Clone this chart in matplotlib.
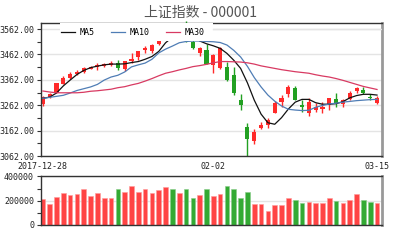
import matplotlib
matplotlib.use('Agg')
import matplotlib.pyplot as plt
from matplotlib.patches import Rectangle
import numpy as np

# K线数据 (上证指数 2017-12-28 ~ 2018-03-15)
dates = ['2017-12-28', '02-02', '03-15']
date_pos = [0, 25, 49]

opens = [3268, 3294, 3312, 3346, 3368, 3384, 3392, 3406, 3412, 3417,
         3422, 3428, 3403, 3437, 3450, 3478, 3475, 3504, 3547, 3555,
         3547, 3563, 3511, 3468, 3480, 3420, 3410, 3414, 3380, 3284,
         3176, 3122, 3174, 3184, 3232, 3274, 3306, 3330, 3262, 3231,
         3243, 3248, 3262, 3286, 3266, 3285, 3319, 3322, 3295, 3272]
closes = [3296, 3307, 3348, 3370, 3386, 3392, 3410, 3414, 3422, 3425,
          3429, 3410, 3437, 3445, 3475, 3488, 3501, 3546, 3559, 3548,
          3558, 3523, 3488, 3488, 3426, 3461, 3487, 3362, 3309, 3262,
          3128, 3156, 3186, 3202, 3269, 3290, 3332, 3282, 3256, 3275,
          3256, 3254, 3289, 3269, 3281, 3309, 3328, 3309, 3289, 3292]
highs = [3298, 3309, 3350, 3376, 3392, 3402, 3413, 3418, 3430, 3428,
         3436, 3442, 3438, 3468, 3477, 3497, 3505, 3547, 3563, 3562,
         3563, 3595, 3524, 3493, 3503, 3463, 3492, 3434, 3414, 3306,
         3191, 3168, 3195, 3211, 3278, 3302, 3342, 3338, 3282, 3290,
         3270, 3274, 3292, 3310, 3286, 3318, 3335, 3335, 3306, 3298]
lows = [3258, 3292, 3310, 3344, 3365, 3380, 3388, 3403, 3400, 3412,
        3418, 3402, 3396, 3430, 3442, 3466, 3467, 3500, 3534, 3527,
        3526, 3510, 3484, 3454, 3424, 3390, 3405, 3358, 3302, 3242,
        3062, 3108, 3168, 3172, 3231, 3255, 3295, 3282, 3236, 3219,
        3236, 3232, 3243, 3255, 3255, 3282, 3311, 3306, 3282, 3266]

ma5 = [3289, 3294, 3310, 3338, 3361, 3383, 3399, 3410, 3416, 3421,
       3424, 3424, 3425, 3430, 3434, 3443, 3454, 3474, 3508, 3530,
       3542, 3548, 3535, 3515, 3504, 3496, 3486, 3466, 3439, 3407,
       3350, 3282, 3227, 3193, 3187, 3213, 3247, 3274, 3285, 3285,
       3272, 3266, 3266, 3268, 3276, 3291, 3300, 3305, 3305, 3302]
ma10 = [3289, 3293, 3297, 3301, 3310, 3320, 3327, 3334, 3344, 3361,
        3373, 3380, 3393, 3413, 3421, 3428, 3443, 3468, 3483, 3495,
        3508, 3513, 3515, 3515, 3513, 3512, 3509, 3499, 3478, 3452,
        3415, 3371, 3334, 3302, 3278, 3259, 3246, 3243, 3241, 3242,
        3254, 3261, 3267, 3270, 3274, 3277, 3280, 3282, 3284, 3285]
ma30 = [3318, 3314, 3311, 3311, 3311, 3311, 3313, 3317, 3319, 3322,
        3325, 3331, 3335, 3342, 3348, 3357, 3367, 3378, 3388, 3394,
        3401, 3407, 3414, 3418, 3423, 3429, 3434, 3434, 3433, 3432,
        3429, 3424, 3417, 3412, 3407, 3402, 3398, 3394, 3391, 3388,
        3382, 3377, 3373, 3367, 3360, 3352, 3344, 3336, 3330, 3324]

volumes = [212000, 177000, 234000, 262000, 248000, 257000, 295000, 243000, 262000, 221000,
           221000, 295000, 273000, 323000, 276000, 300000, 268000, 287000, 314000, 295000,
           262000, 295000, 226000, 248000, 298000, 240000, 254000, 325000, 298000, 226000,
           273000, 174000, 174000, 113000, 163000, 163000, 221000, 207000, 182000, 188000,
           182000, 182000, 226000, 201000, 182000, 207000, 254000, 207000, 188000, 182000]

RED = '#ff2a2a'
GREEN = '#22a022'
mono = 'DejaVu Sans Mono'

x = np.arange(len(opens))
o = np.array(opens, dtype=float)
c = np.array(closes, dtype=float)
up = c >= o
cols = [RED if u else GREEN for u in up]

fig = plt.figure(figsize=(4, 2.4), dpi=100)
ax = fig.add_axes([0.1025, 0.35, 0.8525, 0.5554])
axv = fig.add_axes([0.1025, 0.0625, 0.8525, 0.2021])

fig.text(0.5, 0.945, '上证指数 - 000001', ha='center', va='center',
         fontsize=10, color='#555555', family=['Noto Sans CJK SC', 'DejaVu Sans'])

# 主图
ax.vlines(x, lows, highs, colors=cols, lw=1, zorder=2, clip_on=False)
body = np.maximum(np.abs(c - o), 2)
ax.bar(x, body, bottom=np.minimum(o, c), width=0.6, color=cols, zorder=2)
ax.plot(x, ma5, color='#111111', lw=0.9, zorder=3, label='MA5')
ax.plot(x, ma10, color='#4f7db5', lw=0.9, zorder=3, label='MA10')
ax.plot(x, ma30, color='#d83a62', lw=0.9, zorder=3, label='MA30')

ax.set_xlim(-0.27, 49.73)
ax.set_ylim(3062, 3587)
ax.set_yticks(np.arange(3062, 3563, 100))
ax.set_yticklabels(['%.2f' % v for v in np.arange(3062, 3563, 100)])
ax.set_yticks(np.arange(3112, 3587, 100), minor=True)
ax.grid(axis='y', color='#e4e4e4', lw=1)
ax.set_axisbelow(True)
ax.set_xticks(date_pos)
ax.set_xticklabels(dates)
ax.tick_params(axis='x', length=0, pad=4, labelsize=6)
ax.tick_params(axis='y', which='both', length=3, width=0.8, color='#333333', labelsize=6, pad=2)
for lab in ax.get_xticklabels() + ax.get_yticklabels():
    lab.set_family(mono)
    lab.set_color('#222222')

# 图例背景
ax.add_patch(Rectangle((0.0557, 0.861), 0.449, 0.139, transform=ax.transAxes,
                       facecolor='white', edgecolor='none', zorder=4))
ax.axhline(3562, xmin=0.504, xmax=1, color='#e4e4e4', lw=1, zorder=4)
leg = ax.legend(ncol=3, loc='center left', bbox_to_anchor=(0.045, 0.928), frameon=False,
                prop={'family': mono, 'size': 6}, handlelength=1.7, handletextpad=0.6,
                columnspacing=1.9, borderpad=0)
leg.set_zorder(5)

# 成交量
axv.bar(x, volumes, width=0.68, color=['#ff4444' if u else '#33aa33' for u in up],
        edgecolor=['#ff9a9a' if u else '#88cc88' for u in up], linewidth=0.4)
axv.set_xlim(-0.27, 49.73)
axv.set_ylim(0, 400000)
axv.set_yticks([0, 200000, 400000])
axv.set_yticks([100000, 300000], minor=True)
axv.set_xticks([])
axv.grid(axis='y', color='#e4e4e4', lw=1)
axv.set_axisbelow(True)
axv.tick_params(axis='y', which='both', length=3, width=0.8, color='#333333', labelsize=6, pad=2)
for lab in axv.get_yticklabels():
    lab.set_family(mono)
    lab.set_color('#222222')

for a in (ax, axv):
    for s in ('left', 'top', 'bottom'):
        a.spines[s].set_color('#333333')
        a.spines[s].set_linewidth(1)
    a.spines['right'].set_color('#999999')
    a.spines['right'].set_linewidth(2)

fig.savefig('out.png', dpi=100)
